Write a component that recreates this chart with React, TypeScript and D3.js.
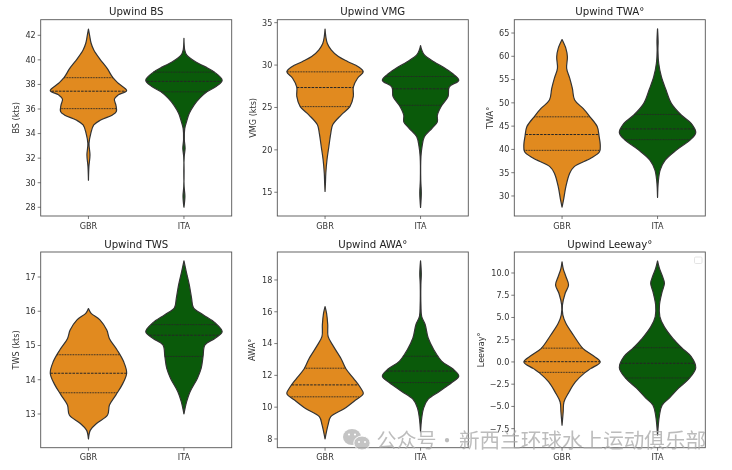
import React from "react";
import * as d3 from "d3";

const categories = ["GBR", "ITA"];
const teamColors = ["#e18a1f", "#0a5a0a"];

// [value, density relative to the widest point of that violin]
const bsGBR = [[42.5,0],[42,.03],[41.35,.07],[40.8,.14],[40.1,.29],[39.3,.49],[38.55,.64],[38.1,.78],[37.5,1],[37.15,.78],[36.8,.68],[36.3,.72],[35.8,.73],[35.5,.62],[35.1,.32],[34.7,.14],[34,.06],[33.2,.015],[32.25,.04],[31.3,.012],[30.2,0]];
const bsITA = [[41.75,0],[40.8,.02],[40.4,.07],[39.85,.3],[39.45,.55],[39,.8],[38.35,1],[37.85,.85],[37.4,.6],[36.9,.42],[36.3,.26],[35.65,.14],[35.1,.08],[34.4,.02],[33.5,.01],[32.8,.03],[32.1,.006],[29.7,.004],[28.9,.025],[28,0]];
const vmgGBR = [[34.25,0],[33.35,.02],[32.55,.06],[31.8,.16],[31,.35],[30.4,.6],[29.8,.87],[29.2,1],[28.45,.85],[27.4,.74],[26.3,.74],[25.1,.65],[24.1,.42],[22.95,.2],[21.95,.15],[20.4,.1],[18.8,.05],[17.25,.02],[16.05,.01],[15.1,0]];
const vmgITA = [[32.3,0],[31.8,.03],[31.2,.1],[30.4,.35],[29.6,.65],[28.85,.88],[28.2,1],[27.4,.75],[26.3,.72],[25.2,.55],[24.1,.44],[23.3,.44],[22.55,.3],[21.55,.1],[20.4,.04],[19.2,.01],[16.45,.005],[14.9,.02],[13.2,0]];
const twaGBR = [[63.6,0],[61.7,.1],[59.9,.14],[57.4,.12],[55.3,.2],[53.1,.27],[50.6,.33],[48.8,.55],[47,.73],[44.9,.92],[42.8,.97],[41,1],[39.5,.98],[38.1,.75],[36.3,.32],[34.9,.2],[32,.1],[29.2,.04],[27.6,0]];
const twaITA = [[65.9,0],[63.1,.015],[61.3,.01],[58.5,.03],[55.6,.1],[52.8,.22],[49.9,.36],[47.4,.62],[45.6,.88],[43.6,1],[42,.85],[39.9,.5],[37.7,.2],[35.6,.07],[33.1,.02],[29.7,0]];
const twsGBR = [[16.08,0],[15.94,.07],[15.75,.3],[15.45,.48],[15.2,.55],[14.87,.75],[14.53,.92],[14.19,1],[13.85,.88],[13.56,.72],[13.26,.55],[12.97,.5],[12.73,.22],[12.53,.05],[12.27,0]];
const twsITA = [[17.47,0],[17.16,.06],[16.77,.14],[16.38,.2],[16.1,.25],[15.9,.5],[15.66,.82],[15.4,1],[15.2,.8],[15.02,.55],[14.68,.5],[14.33,.45],[14.04,.35],[13.65,.16],[13.36,.07],[13,0]];
const awaGBR = [[16.32,0],[15.9,.04],[15.2,.07],[14.45,.08],[13.9,.2],[13.05,.42],[12.4,.55],[11.8,.75],[11.25,.92],[10.85,1],[10.45,.8],[9.9,.5],[9.4,.15],[8.9,.08],[8,0]];
const awaITA = [[19.2,0],[18.4,.02],[17.7,.008],[16.4,.01],[15.7,.03],[15.2,.12],[14.35,.2],[13.6,.35],[12.9,.55],[12.4,.85],[11.95,1],[11.55,.82],[11,.5],[10.5,.2],[9.95,.08],[9.3,.03],[8.45,0]];
const leeGBR = [[11.25,0],[10.5,.03],[9.6,.1],[8.65,.17],[7.7,.08],[6.4,.01],[5.3,.02],[4.35,.1],[3,.3],[1.5,.55],[.75,.8],[0,1],[-.75,.75],[-1.2,.6],[-2.25,.35],[-3.4,.18],[-4.5,.05],[-5.6,.03],[-7.1,0]];
const leeITA = [[11.35,0],[10.5,.05],[9.6,.13],[8.85,.18],[7.9,.12],[6.4,.05],[5.1,.06],[4,.17],[2.65,.4],[1.6,.63],[.6,.88],[-.65,1],[-1.85,.83],[-2.95,.55],[-4.1,.3],[-4.85,.12],[-6,.05],[-7.1,.02],[-8.2,0]];

// Quartiles: [q3, median, q1]
const bsQ = [[38.55,37.45,36.03],[39,38.25,37.4]];
const vmgQ = [[29.2,27.35,25.1],[28.65,27.2,25.25]];
const twaQ = [[47,43.2,39.8],[47.5,44.4,42.1]];
const twsQ = [[14.73,14.19,13.62],[15.61,15.3,14.68]];
const awaQ = [[12.45,11.4,10.65],[13.2,12.27,11.55]];
const leeQ = [[1.55,.03,-1.17],[1.6,-.15,-1.8]];

const bsTicks = [28,30,32,34,36,38,40,42];
const vmgTicks = [15,20,25,30,35];
const twaTicks = [30,35,40,45,50,55,60,65];
const twsTicks = [13,14,15,16,17];
const awaTicks = [8,10,12,14,16,18];
const leeTicks = [-7.5,-5,-2.5,0,2.5,5,7.5,10];

const titles = ["Upwind BS","Upwind VMG","Upwind TWA°","Upwind TWS","Upwind AWA°","Upwind Leeway°"];
const yLabels = ["BS (kts)","VMG (kts)","TWA°","TWS (kts)","AWA°","Leeway°"];
const yDomains = [[27.29,43.27],[12.2,35.35],[25.7,67.86],[12.016,17.73],[7.45,19.76],[-9.64,12.36]];
const violins = [[bsGBR,bsITA],[vmgGBR,vmgITA],[twaGBR,twaITA],[twsGBR,twsITA],[awaGBR,awaITA],[leeGBR,leeITA]];
const quartiles = [bsQ,vmgQ,twaQ,twsQ,awaQ,leeQ];
const ticks = [bsTicks,vmgTicks,twaTicks,twsTicks,awaTicks,leeTicks];
const tickFormats = [d3.format("d"),d3.format("d"),d3.format("d"),d3.format("d"),d3.format("d"),d3.format(".1f")];

// layout
const W = 732, H = 470;
const panelLeft = [40.7,277.3,514.3,40.7,277.3,514.3];
const panelWidth = 191;
const rowTop = [19.7,252];
const rowBottom = [216,447.7];
const labelX = [19,256,492.5,19,255,484];
const EDGE = "#333";
const TXT = "#333";

function densityAt(v: number[][], value: number) {
  const asc = [...v].reverse();
  const i = d3.bisector((d: number[]) => d[0]).left(asc, value);
  if (i <= 0 || i >= asc.length) return 0;
  const a = asc[i-1], b = asc[i];
  return a[1] + (b[1]-a[1]) * (value-a[0])/(b[0]-a[0]);
}

function Panel({ idx }: { idx: number }) {
  const row = idx < 3 ? 0 : 1;
  const L = panelLeft[idx], R = L + panelWidth, T = rowTop[row], B = rowBottom[row];
  const x = d3.scaleLinear().domain([-0.5,1.5]).range([L,R]);
  const y = d3.scaleLinear().domain(yDomains[idx]).range([B,T]);
  const wid = d3.scaleLinear().domain([0,1]).range([0,0.4]);
  return (
    <g>
      {violins[idx].map((v, k) => {
        const area = d3.area<number[]>()
          .y(d => y(d[0]))
          .x0(d => x(k - wid(d[1])))
          .x1(d => x(k + wid(d[1])))
          .curve(d3.curveCatmullRom.alpha(0.5));
        return (
          <g key={k}>
            <path d={area(v) as string} fill={teamColors[k]} stroke={EDGE} strokeWidth={1.2} strokeLinejoin="round" />
            {quartiles[idx][k].map((q, j) => {
              const w = wid(densityAt(v, q));
              return <line key={j} x1={x(k-w)} x2={x(k+w)} y1={y(q)} y2={y(q)} stroke="#262626"
                strokeWidth={1} strokeDasharray={j === 1 ? "2.6 1.1" : "0.9 0.7"} />;
            })}
          </g>
        );
      })}
      <rect x={L} y={T} width={R-L} height={B-T} fill="none" stroke="#555" strokeWidth={0.9} />
      {ticks[idx].map(t => (
        <g key={t}>
          <line x1={L-3} x2={L} y1={y(t)} y2={y(t)} stroke="#444" strokeWidth={0.7} />
          <text x={L-5} y={y(t)+2.9} textAnchor="end" fontSize={8.1} fill={TXT}>{tickFormats[idx](t).replace("-","−")}</text>
        </g>
      ))}
      {categories.map((c, k) => (
        <g key={c}>
          <line x1={x(k)} x2={x(k)} y1={B} y2={B+3} stroke="#444" strokeWidth={0.7} />
          <text x={x(k)} y={B+12.5} textAnchor="middle" fontSize={8.1} fill={TXT}>{c}</text>
        </g>
      ))}
      <text x={(L+R)/2} y={T-4.5} textAnchor="middle" fontSize={10.2} fill="#222">{titles[idx]}</text>
      <text transform={`translate(${labelX[idx]},${(T+B)/2}) rotate(-90)`} textAnchor="middle" fontSize={8.1} fill={TXT}>{yLabels[idx]}</text>
    </g>
  );
}

export default function App() {
  return (
    <svg width={W} height={H} viewBox={`0 0 ${W} ${H}`}
      style={{ position: "absolute", left: 0, top: 0, background: "#fff", fontFamily: "'DejaVu Sans', sans-serif", filter: "blur(0.4px)" }}>
      {titles.map((_, i) => <Panel key={i} idx={i} />)}
      <rect x={694.5} y={257} width={7.5} height={6.5} rx={1.2} fill="#fff" stroke="#ddd" strokeWidth={0.8} />
      <g opacity={0.78}>
        <ellipse cx={352} cy={437} rx={9} ry={8} fill="#b4b4b4" />
        <circle cx={349} cy={434.5} r={1.1} fill="#fff" />
        <circle cx={355} cy={434.5} r={1.1} fill="#fff" />
        <ellipse cx={362} cy={443} rx={8.2} ry={7} fill="#b4b4b4" stroke="#fff" strokeWidth={1} />
        <circle cx={359} cy={442} r={1} fill="#fff" />
        <circle cx={365} cy={442} r={1} fill="#fff" />
        <text y={447.5} fontFamily="'Noto Sans CJK SC'" fill="#aaa">
          <tspan x={376.5} fontSize={20}>公众号</tspan>
          <tspan x={437} fontSize={20}>·</tspan>
          <tspan x={459} fontSize={20.6}>新西兰环球水上运动俱乐部</tspan>
        </text>
      </g>
    </svg>
  );
}
